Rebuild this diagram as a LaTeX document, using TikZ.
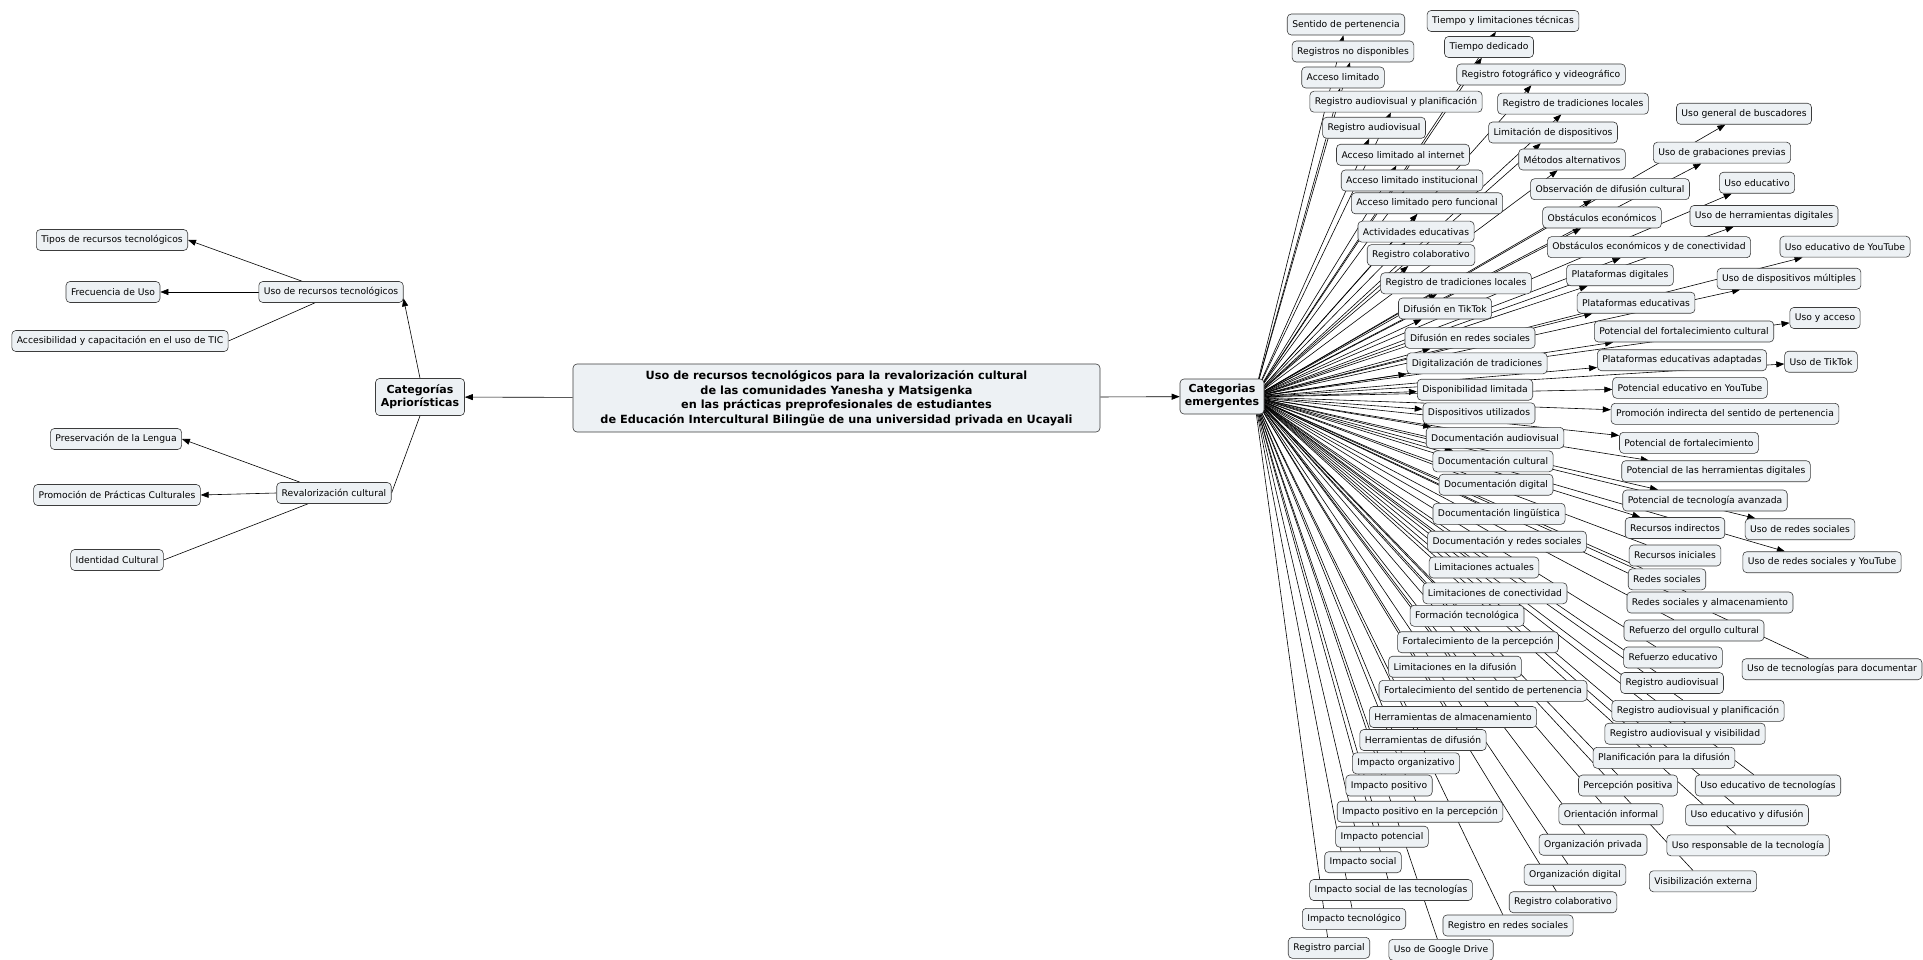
\documentclass[tikz,border=0pt]{standalone}
\usepackage{fontspec}
\newfontfamily\mapfont{DejaVu Sans}
\usepackage{tikz}
\usetikzlibrary{arrows.meta,backgrounds}
\definecolor{boxfill}{HTML}{EDF1F4}
\definecolor{boxline}{HTML}{3C3C3C}

\begin{document}
\begin{tikzpicture}[
    x=1pt, y=-1pt,
    every node/.style={
      draw=boxline, rounded corners=4pt, line width=0.6pt,
      font=\mapfont\fontsize{9.2}{11}\selectfont,
      minimum height=21pt, inner xsep=5pt, inner ysep=2pt,
      fill=boxfill
    },
    head/.style={font=\mapfont\bfseries\fontsize{11}{13}\selectfont, align=center, inner sep=3pt},
    title/.style={font=\mapfont\bfseries\fontsize{11.3}{14.5}\selectfont, align=center,
      minimum width=527pt, minimum height=68pt},
    link/.style={draw=black, line width=0.6pt},
    arrowlink/.style={link, -{Triangle[length=8pt,width=6pt]}}
  ]
  \useasboundingbox (0,0) rectangle (1923,960);

  % Centre
  \node[title] (title) at (836.5,398) {Uso de recursos tecnológicos para la revalorización cultural\\
    de las comunidades Yanesha y Matsigenka\\
    en las prácticas preprofesionales de estudiantes\\
    de Educación Intercultural Bilingüe de una universidad privada en Ucayali};
  \node[head, minimum width=89pt, minimum height=37pt] (apriori) at (420,397) {Categorías\\Apriorísticas};
  \node[head, minimum width=84pt, minimum height=35pt] (emerg) at (1222,396.5) {Categorias\\emergentes};
  \coordinate (fan) at (1254,397);

  % Left side
  \node (usorec) at (331,292) {Uso de recursos tecnológicos};
  \node (tipos) at (112,240) {Tipos de recursos tecnológicos};
  \node (frecuencia) at (113,292) {Frecuencia de Uso};
  \node (accesib) at (120,341) {Accesibilidad y capacitación en el uso de TIC};
  \node (reval) at (334,493) {Revalorización cultural};
  \node (preserv) at (116,439) {Preservación de la Lengua};
  \node (promprac) at (117,495) {Promoción de Prácticas Culturales};
  \node (identidad) at (117,560) {Identidad Cultural};

  % Right side
  \node (sentido) at (1346,24.5) {Sentido de pertenencia};
  \node (tiempotec) at (1503,21) {Tiempo y limitaciones técnicas};
  \node (regnodisp) at (1353,51.5) {Registros no disponibles};
  \node (tiempoded) at (1489,47) {Tiempo dedicado};
  \node (accesolim) at (1343,77.5) {Acceso limitado};
  \node (regfoto) at (1541,74.5) {Registro fotográfico y videográfico};
  \node (regavplan) at (1396,101.7) {Registro audiovisual y planificación};
  \node (regtrad) at (1573,103.7) {Registro de tradiciones locales};
  \node (buscadores) at (1744,113.8) {Uso general de buscadores};
  \node (regav) at (1374,127.8) {Registro audiovisual};
  \node (limdisp) at (1553,132.5) {Limitación de dispositivos};
  \node (accinternet) at (1403,154.8) {Acceso limitado al internet};
  \node (metodos) at (1572,159.5) {Métodos alternativos};
  \node (grabaciones) at (1722,152.7) {Uso de grabaciones previas};
  \node (accinst) at (1412,180.5) {Acceso limitado institucional};
  \node (observacion) at (1610,189.2) {Observación de difusión cultural};
  \node (usoedu) at (1757,182.8) {Uso educativo};
  \node (accfunc) at (1427,203.3) {Acceso limitado pero funcional};
  \node (obstecon) at (1602,217.5) {Obstáculos económicos};
  \node (herrdig) at (1764,216) {Uso de herramientas digitales};
  \node (actividades) at (1416,231.7) {Actividades educativas};
  \node (regcolab) at (1421,255.2) {Registro colaborativo};
  \node (obstconect) at (1649,247.2) {Obstáculos económicos y de conectividad};
  \node (youtubeedu) at (1845,246.7) {Uso educativo de YouTube};
  \node (regtradb) at (1456,283.3) {Registro de tradiciones locales};
  \node (platdig) at (1620,275.2) {Plataformas digitales};
  \node (dispmult) at (1789,278.8) {Uso de dispositivos múltiples};
  \node (tiktok) at (1445,308.5) {Difusión en TikTok};
  \node (platedu) at (1636,302.7) {Plataformas educativas};
  \node (usoacceso) at (1825,318) {Uso y acceso};
  \node (potfortcult) at (1684,331.5) {Potencial del fortalecimiento cultural};
  \node (redes) at (1470,337.8) {Difusión en redes sociales};
  \node (digital) at (1477,363.3) {Digitalización de tradiciones};
  \node (platadapt) at (1682,360.2) {Plataformas educativas adaptadas};
  \node (usotiktok) at (1821,361.7) {Uso de TikTok};
  \node (disponib) at (1475,389.7) {Disponibilidad limitada};
  \node (potyoutube) at (1690,387.8) {Potencial educativo en YouTube};
  \node (dispositivos) at (1479,413.3) {Dispositivos utilizados};
  \node (promocion) at (1725,413.8) {Promoción indirecta del sentido de pertenencia};
  \node (docav) at (1495,437.8) {Documentación audiovisual};
  \node (potfort) at (1689,442.8) {Potencial de fortalecimiento};
  \node (doccult) at (1493,461.3) {Documentación cultural};
  \node (potherr) at (1716,471.2) {Potencial de las herramientas digitales};
  \node (docdig) at (1496,484.7) {Documentación digital};
  \node (pottec) at (1705,500.5) {Potencial de tecnología avanzada};
  \node (docling) at (1499,513.8) {Documentación lingüística};
  \node (recind) at (1675,528) {Recursos indirectos};
  \node (usoredes) at (1800,529.2) {Uso de redes sociales};
  \node (docredes) at (1507,541.7) {Documentación y redes sociales};
  \node (recini) at (1675,555.5) {Recursos iniciales};
  \node (usoredesyt) at (1822,562.2) {Uso de redes sociales y YouTube};
  \node (limact) at (1484,567.5) {Limitaciones actuales};
  \node (redsoc) at (1667,579.3) {Redes sociales};
  \node (limcon) at (1495,593.3) {Limitaciones de conectividad};
  \node (redalm) at (1710,602.5) {Redes sociales y almacenamiento};
  \node (formacion) at (1467,615.8) {Formación tecnológica};
  \node (orgullo) at (1694,630.5) {Refuerzo del orgullo cultural};
  \node (fortperc) at (1478,642.2) {Fortalecimiento de la percepción};
  \node (refedu) at (1673,657.5) {Refuerzo educativo};
  \node (usodoc) at (1832,669.2) {Uso de tecnologías para documentar};
  \node (limdif) at (1455,666.7) {Limitaciones en la difusión};
  \node (regavb) at (1672,683) {Registro audiovisual};
  \node (fortsent) at (1483,690.8) {Fortalecimiento del sentido de pertenencia};
  \node (regavplanb) at (1698,710.8) {Registro audiovisual y planificación};
  \node (herralm) at (1453,717) {Herramientas de almacenamiento};
  \node (regavvis) at (1685,733.7) {Registro audiovisual y visibilidad};
  \node (herrdif) at (1423,740) {Herramientas de difusión};
  \node (planif) at (1664,757.8) {Planificación para la difusión};
  \node (imporg) at (1406,763.3) {Impacto organizativo};
  \node (imppos) at (1389,785.5) {Impacto positivo};
  \node (percpos) at (1628,785.5) {Percepción positiva};
  \node (usoedutec) at (1768,785.5) {Uso educativo de tecnologías};
  \node (impperc) at (1420,811.7) {Impacto positivo en la percepción};
  \node (orient) at (1611,814.2) {Orientación informal};
  \node (usoedudif) at (1747,815.2) {Uso educativo y difusión};
  \node (imppot) at (1382,836.7) {Impacto potencial};
  \node (orgpriv) at (1593,844.7) {Organización privada};
  \node (usoresp) at (1748,845.3) {Uso responsable de la tecnología};
  \node (impsoc) at (1363,862.2) {Impacto social};
  \node (orgdig) at (1575,874.7) {Organización digital};
  \node (visib) at (1703,881.3) {Visibilización externa};
  \node (impsoctec) at (1391,890) {Impacto social de las tecnologías};
  \node (regcolabb) at (1563,902.2) {Registro colaborativo};
  \node (imptec) at (1354,918.8) {Impacto tecnológico};
  \node (regredes) at (1508,925.5) {Registro en redes sociales};
  \node (regparcial) at (1329,947.8) {Registro parcial};
  \node (drive) at (1441,949.8) {Uso de Google Drive};

  \begin{scope}[on background layer]
    % centre links
    \draw[arrowlink] (title) -- (apriori);
    \draw[arrowlink] (title) -- (emerg);
    \draw[arrowlink] (apriori.north) -- (usorec.-5);
    \draw[link] (apriori.south) -- (reval.east);
    % left links
    \draw[arrowlink] ([xshift=-29pt]usorec.north) -- (tipos.east);
    \draw[arrowlink] (usorec.west) -- (frecuencia.east);
    \draw[link] ([xshift=-16pt]usorec.south) -- (accesib.east);
    \draw[arrowlink] ([xshift=-34pt]reval.north) -- (preserv.east);
    \draw[arrowlink] (reval.west) -- (promprac.east);
    \draw[link] ([xshift=-26pt]reval.south) -- (identidad.east);
    % fan to the emerging categories
    \foreach \t in {sentido,tiempotec,regnodisp,tiempoded,accesolim,regfoto,regavplan,
        regtrad,buscadores,regav,limdisp,accinternet,metodos,grabaciones,accinst,
        observacion,usoedu,accfunc,obstecon,herrdig,actividades,regcolab,obstconect,
        youtubeedu,regtradb,platdig,dispmult,tiktok,platedu,usoacceso,potfortcult,
        redes,digital,platadapt,usotiktok,disponib,potyoutube,dispositivos,promocion,
        docav,potfort,doccult,potherr,pottec,recind,usoredes,usoredesyt}
      \draw[arrowlink] (fan) -- (\t);
    \foreach \t in {docdig,docling,docredes,recini,limact,redsoc,limcon,redalm,
        formacion,orgullo,fortperc,refedu,usodoc,limdif,regavb,fortsent,regavplanb,
        herralm,regavvis,herrdif,planif,imporg,imppos,percpos,usoedutec,impperc,
        orient,usoedudif,imppot,orgpriv,usoresp,impsoc,orgdig,visib,impsoctec,
        regcolabb,imptec,regredes,regparcial,drive}
      \draw[link] (fan) -- (\t);
  \end{scope}

\end{tikzpicture}
\end{document}
